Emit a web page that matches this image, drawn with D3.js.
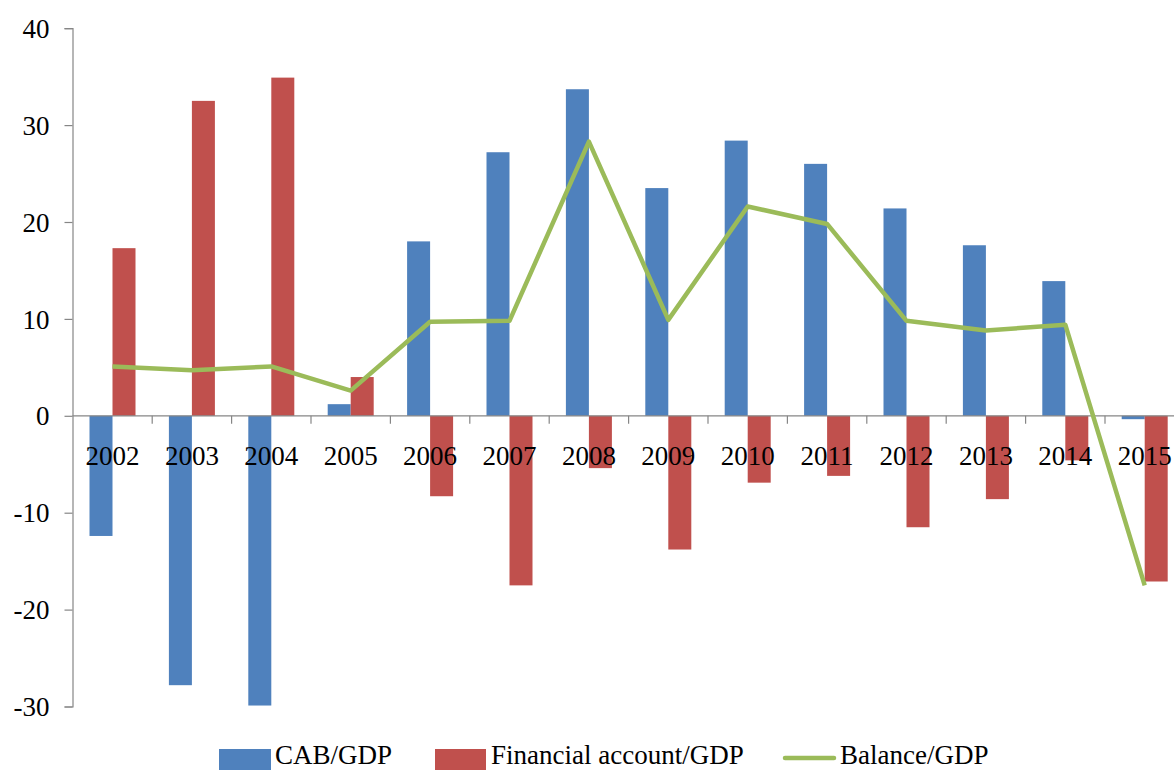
<!DOCTYPE html>
<html>
<head>
<meta charset="utf-8">
<script src="https://cdn.jsdelivr.net/npm/d3@7"></script>
<style>
  html, body { margin: 0; padding: 0; background: #fff; }
  svg { display: block; font-family: "Liberation Serif", "Times New Roman", serif; }
</style>
</head>
<body>
<svg id="chart" width="1174" height="770"></svg>
<script>
// Years on the category axis
const years = ["2002","2003","2004","2005","2006","2007","2008","2009","2010","2011","2012","2013","2014","2015"];
// Current account balance, % of GDP
const cabGdp = [-12.4, -27.8, -29.9, 1.2, 18.0, 27.2, 33.7, 23.5, 28.4, 26.0, 21.4, 17.6, 13.9, -0.35];
// Financial account, % of GDP
const finGdp = [17.3, 32.5, 34.9, 4.0, -8.3, -17.5, -5.4, -13.8, -6.9, -6.2, -11.5, -8.6, -4.6, -17.1];
// Overall balance, % of GDP
const balGdp = [5.1, 4.7, 5.1, 2.6, 9.7, 9.8, 28.3, 9.9, 21.6, 19.8, 9.8, 8.8, 9.4, -17.5];
// Value-axis ticks
const yTicks = [-30, -20, -10, 0, 10, 20, 30, 40];

const legendItems = [
  { label: "CAB/GDP", type: "bar", color: "#4F81BD", x: 219, w: 52, tx: 275 },
  { label: "Financial account/GDP", type: "bar", color: "#C0504D", x: 435, w: 51, tx: 491 },
  { label: "Balance/GDP", type: "line", color: "#9BBB59", x: 783, w: 53, tx: 840 }
];

const svg = d3.select("#chart");
const axisColor = "#868686";
const fontSize = 27;

const x = d3.scaleBand().domain(years).range([72.8, 1184.4]).padding(0);
const y = d3.scaleLinear().domain([-30, 40]).range([706.5, 28.2]);
const barW = 23;

// Bars
const gBars = svg.append("g");
gBars.selectAll("rect.cab").data(years).join("rect")
  .attr("class", "cab")
  .attr("x", d => x(d) + x.bandwidth() / 2 - barW)
  .attr("width", barW)
  .attr("y", (d, i) => y(Math.max(0, cabGdp[i])))
  .attr("height", (d, i) => Math.abs(y(cabGdp[i]) - y(0)))
  .attr("fill", "#4F81BD");

gBars.selectAll("rect.fin").data(years).join("rect")
  .attr("class", "fin")
  .attr("x", d => x(d) + x.bandwidth() / 2)
  .attr("width", barW)
  .attr("y", (d, i) => y(Math.max(0, finGdp[i])))
  .attr("height", (d, i) => Math.abs(y(finGdp[i]) - y(0)))
  .attr("fill", "#C0504D");

// Y axis
const yAxis = d3.axisLeft(y).tickValues(yTicks).tickSize(8).tickPadding(15).tickFormat(d => String(d));
const gy = svg.append("g").attr("transform", "translate(72.5,0)").call(yAxis);
gy.select(".domain").attr("stroke", axisColor).attr("stroke-width", 1.2);
gy.selectAll(".tick line").attr("stroke", axisColor).attr("stroke-width", 1.2);
gy.selectAll(".tick text")
  .attr("font-family", "Liberation Serif, Times New Roman, serif")
  .attr("font-size", fontSize).attr("fill", "#000").attr("dy", "0.34em");

// X axis at zero with ticks between categories
const zeroY = y(0);
svg.append("line")
  .attr("x1", 72.5).attr("x2", 1184.4).attr("y1", zeroY).attr("y2", zeroY)
  .attr("stroke", axisColor).attr("stroke-width", 1.2);
svg.append("g").selectAll("line").data(years).join("line")
  .attr("x1", (d, i) => x.range()[0] + x.step() * (i + 1))
  .attr("x2", (d, i) => x.range()[0] + x.step() * (i + 1))
  .attr("y1", zeroY).attr("y2", zeroY + 8)
  .attr("stroke", axisColor).attr("stroke-width", 1.2);

// Category labels
svg.append("g").selectAll("text").data(years).join("text")
  .attr("x", d => x(d) + x.bandwidth() / 2)
  .attr("y", zeroY + 49.5)
  .attr("text-anchor", "middle")
  .attr("font-size", fontSize)
  .attr("fill", "#000")
  .text(d => d);

// Balance line
const line = d3.line()
  .x((d, i) => x(years[i]) + x.bandwidth() / 2)
  .y(d => y(d));
svg.append("path")
  .datum(balGdp)
  .attr("d", line)
  .attr("fill", "none")
  .attr("stroke", "#9BBB59")
  .attr("stroke-width", 4.5)
  .attr("stroke-linejoin", "round");

// Legend
const gLeg = svg.append("g");
legendItems.forEach(it => {
  if (it.type === "bar") {
    gLeg.append("rect").attr("x", it.x).attr("y", 749).attr("width", it.w).attr("height", 21).attr("fill", it.color);
  } else {
    gLeg.append("line").attr("x1", it.x + 2).attr("x2", it.x + it.w - 2).attr("y1", 758).attr("y2", 758)
      .attr("stroke", it.color).attr("stroke-width", 4.5).attr("stroke-linecap", "round");
  }
  gLeg.append("text")
    .attr("x", it.tx)
    .attr("y", 764)
    .attr("font-size", fontSize)
    .attr("fill", "#000")
    .text(it.label);
});
</script>
</body>
</html>
